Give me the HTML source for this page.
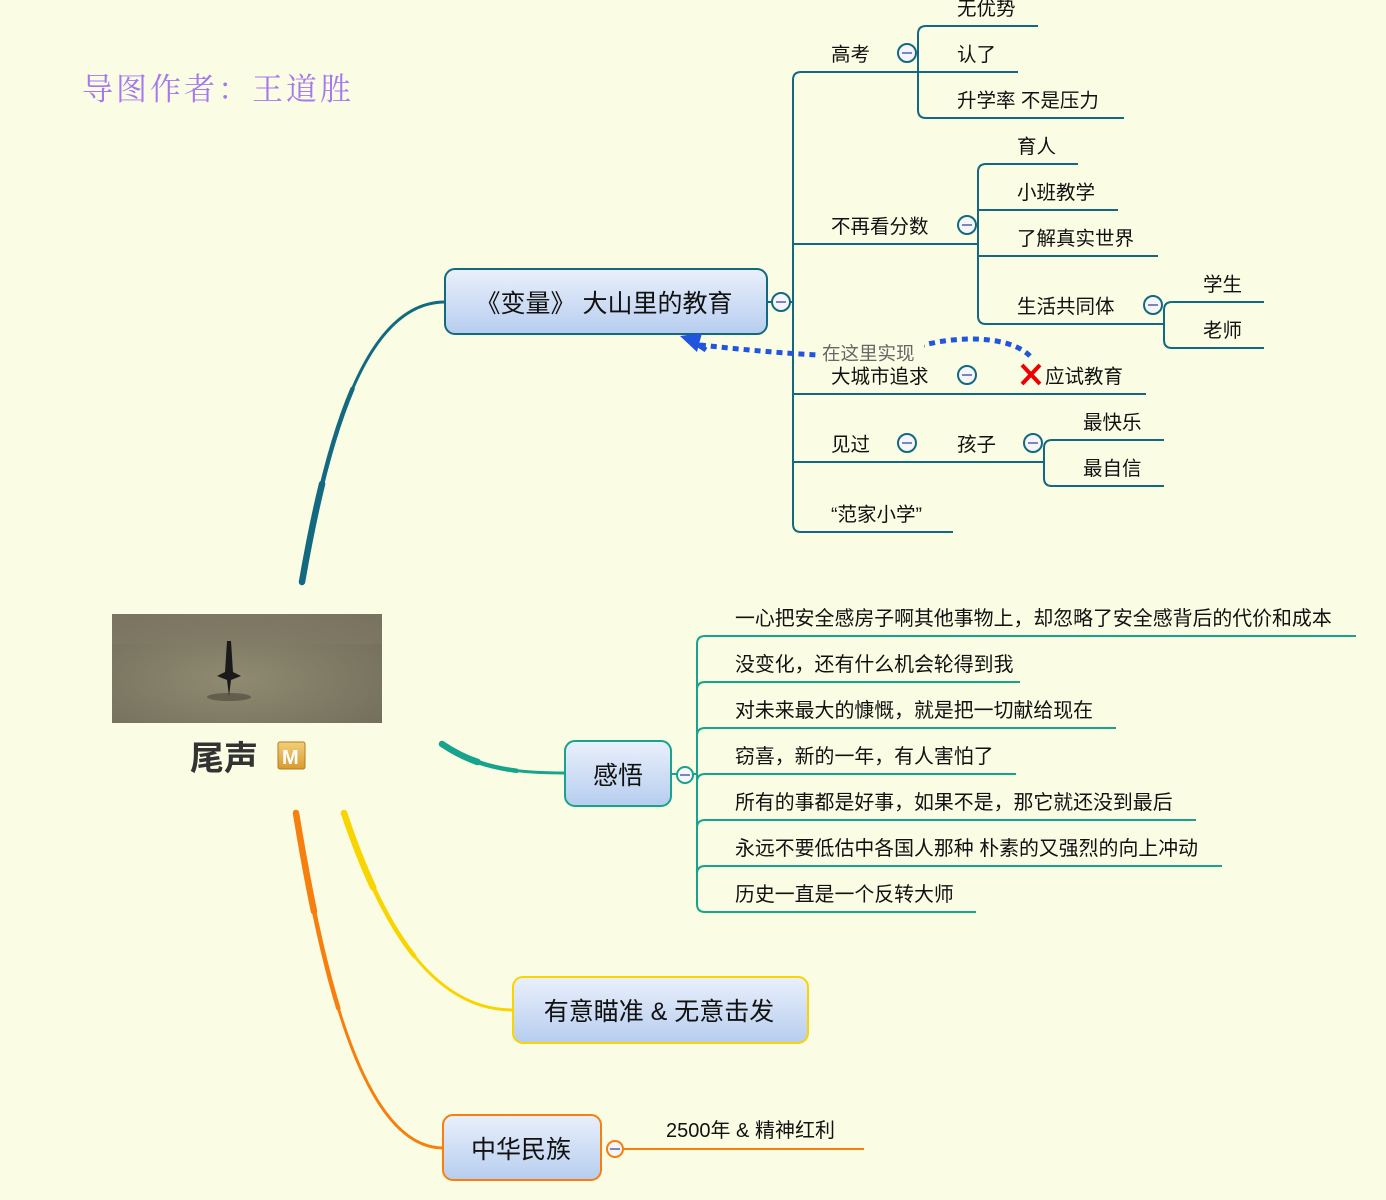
<!DOCTYPE html>
<html><head><meta charset="utf-8"><style>
html,body{margin:0;padding:0;background:#fafde4;}
svg{display:block}
text{font-family:"Liberation Sans","Noto Sans CJK SC",sans-serif;fill:#111;}
</style></head><body>
<svg width="1386" height="1200" viewBox="0 0 1386 1200" xmlns="http://www.w3.org/2000/svg">
<defs>
<linearGradient id="bg" x1="0" y1="0" x2="0" y2="1"><stop offset="0" stop-color="#eaf0fb"/><stop offset="1" stop-color="#b6cdef"/></linearGradient>
<linearGradient id="mg" x1="0" y1="0" x2="0" y2="1"><stop offset="0" stop-color="#f3cf7a"/><stop offset="1" stop-color="#d99a30"/></linearGradient>
<radialGradient id="img" cx="0.45" cy="0.6" r="0.8"><stop offset="0" stop-color="#8f8a70"/><stop offset="1" stop-color="#6f6a58"/></radialGradient>
</defs>
<rect width="1386" height="1200" fill="#fafde4"/>
<text x="82" y="100" style="font-family:'Noto Serif CJK SC','Liberation Serif',serif;font-size:31px;fill:#a578ee;letter-spacing:3px">导图作者：王道胜</text>

<!-- main branch curves -->
<g fill="none" stroke-linecap="round">
<path d="M302,582 C330,420 370,302 445,302" stroke="#136a80" stroke-width="3"/>
<path d="M302,582 C330,420 370,302 445,302" stroke="#136a80" stroke-width="4.5" stroke-dasharray="200 2000"/>
<path d="M302,582 C330,420 370,302 445,302" stroke="#136a80" stroke-width="6.5" stroke-dasharray="100 2000"/>
<path d="M442,744 C480,770 520,773 565,773" stroke="#17a38c" stroke-width="3"/>
<path d="M442,744 C480,770 520,773 565,773" stroke="#17a38c" stroke-width="4.5" stroke-dasharray="80 2000"/>
<path d="M442,744 C480,770 520,773 565,773" stroke="#17a38c" stroke-width="6.5" stroke-dasharray="40 2000"/>
<path d="M344,813 C380,920 430,1010 513,1010" stroke="#f8d400" stroke-width="3"/>
<path d="M344,813 C380,920 430,1010 513,1010" stroke="#f8d400" stroke-width="4.5" stroke-dasharray="160 2000"/>
<path d="M344,813 C380,920 430,1010 513,1010" stroke="#f8d400" stroke-width="6.5" stroke-dasharray="80 2000"/>
<path d="M296,813 C320,960 360,1148 443,1148" stroke="#f77f0e" stroke-width="3"/>
<path d="M296,813 C320,960 360,1148 443,1148" stroke="#f77f0e" stroke-width="4.5" stroke-dasharray="200 2000"/>
<path d="M296,813 C320,960 360,1148 443,1148" stroke="#f77f0e" stroke-width="6.5" stroke-dasharray="100 2000"/>
</g>

<!-- image -->
<rect x="112" y="614" width="270" height="109" fill="url(#img)"/>
<rect x="112" y="614" width="270" height="30" fill="#857d68" opacity="0.4"/>
<ellipse cx="229" cy="697" rx="22" ry="4" fill="#3a3a30" opacity="0.5"/>
<path d="M227,641 L231,641 L233,672 L241,676 L231,680 L229,696 L227,680 L217,676 L225,672 Z" fill="#1a1a1a"/>
<text x="190" y="770" style="font-size:34px;font-weight:bold;fill:#333">尾声</text>
<rect x="278" y="742" width="27" height="27" rx="2" fill="url(#mg)" stroke="#b97a18"/>
<text x="282" y="764" style="font-size:20px;font-weight:bold;fill:#fff">M</text>

<!-- top branch tree -->
<g fill="none" stroke="#136a80" stroke-width="2">
<path d="M767,302 H793"/>
<path d="M953,532 H801 Q793,532 793,524 V80 Q793,72 801,72 H918"/>
<path d="M1038,26 H926 Q918,26 918,34 V110 Q918,118 926,118 H1124"/>
<path d="M918,72 H1018"/>
<path d="M793,244 H978"/>
<path d="M1078,164 H986 Q978,164 978,172 V316 Q978,324 986,324 H1164"/>
<path d="M978,210 H1118"/>
<path d="M978,256 H1158"/>
<path d="M1264,302 H1172 Q1164,302 1164,310 V340 Q1164,348 1172,348 H1264"/>
<path d="M793,394 H1146"/>
<path d="M793,462 H1044"/>
<path d="M1164,440 H1052 Q1044,440 1044,448 V478 Q1044,486 1052,486 H1164"/>
</g>
<g fill="#f5f5fa" stroke="#136a80" stroke-width="2">
<circle cx="781" cy="302" r="9"/><circle cx="907" cy="53" r="9"/><circle cx="967" cy="225" r="9"/>
<circle cx="1153" cy="305" r="9"/><circle cx="967" cy="375" r="9"/><circle cx="907" cy="443" r="9"/><circle cx="1033" cy="443" r="9"/>
</g>
<g stroke="#7a86c0" stroke-width="2">
<path d="M776,302h10M902,53h10M962,225h10M1148,305h10M962,375h10M902,443h10M1028,443h10"/>
</g>
<rect x="445" y="269" width="322" height="65" rx="10" fill="url(#bg)" stroke="#136a80" stroke-width="2"/>
<text x="604" y="312" text-anchor="middle" style="font-size:25px">《变量》 大山里的教育</text>

<g style="font-size:19.5px">
<text x="831" y="61">高考</text>
<text x="957" y="15">无优势</text>
<text x="957" y="61">认了</text>
<text x="957" y="107">升学率 不是压力</text>
<text x="831" y="233">不再看分数</text>
<text x="1017" y="153">育人</text>
<text x="1017" y="199">小班教学</text>
<text x="1017" y="245">了解真实世界</text>
<text x="1017" y="313">生活共同体</text>
<text x="1203" y="291">学生</text>
<text x="1203" y="337">老师</text>
<text x="831" y="383">大城市追求</text>
<text x="1045" y="383">应试教育</text>
<text x="831" y="451">见过</text>
<text x="957" y="451">孩子</text>
<text x="1083" y="429">最快乐</text>
<text x="1083" y="475">最自信</text>
<text x="831" y="521">“范家小学”</text>
</g>
<path d="M1022,365 L1040,384 M1040,365 L1022,384" stroke="#e00" stroke-width="4"/>

<!-- dotted relationship -->
<path d="M1030,356 C1010,336 960,335 920,346 C880,358 840,360 700,345" fill="none" stroke="#2255dd" stroke-width="5" stroke-dasharray="6,5"/>
<path d="M680,336 L702,333 L697,352 Z" fill="#2255dd"/>
<path d="M688,338 L706,350" stroke="#2255dd" stroke-width="5"/>
<rect x="820" y="342" width="104" height="22" fill="#fafde4"/>
<text x="822" y="360" style="font-size:18.5px;fill:#666">在这里实现</text>

<!-- 感悟 -->
<g fill="none" stroke="#17a38c" stroke-width="2">
<path d="M671,774 H697"/>
<path d="M697,644 Q697,636 705,636 H1356"/>
<path d="M697,644 V904 Q697,912 705,912 H976"/>
<path d="M697,690 Q697,682 705,682 H1020"/>
<path d="M697,736 Q697,728 705,728 H1116"/>
<path d="M697,782 Q697,774 705,774 H1016"/>
<path d="M697,828 Q697,820 705,820 H1196"/>
<path d="M697,874 Q697,866 705,866 H1222"/>
</g>
<circle cx="685" cy="775" r="8" fill="#f5f5fa" stroke="#17a38c" stroke-width="2"/>
<path d="M680,775h10" stroke="#7a86c0" stroke-width="2"/>
<rect x="565" y="741" width="106" height="65" rx="10" fill="url(#bg)" stroke="#17a38c" stroke-width="2"/>
<text x="618" y="784" text-anchor="middle" style="font-size:25px">感悟</text>
<g style="font-size:19.9px">
<text x="735" y="625">一心把安全感房子啊其他事物上，却忽略了安全感背后的代价和成本</text>
<text x="735" y="671">没变化，还有什么机会轮得到我</text>
<text x="735" y="717">对未来最大的慷慨，就是把一切献给现在</text>
<text x="735" y="763">窃喜，新的一年，有人害怕了</text>
<text x="735" y="809">所有的事都是好事，如果不是，那它就还没到最后</text>
<text x="735" y="855">永远不要低估中各国人那种 朴素的又强烈的向上冲动</text>
<text x="735" y="901">历史一直是一个反转大师</text>
</g>

<!-- 有意瞄准 -->
<rect x="513" y="977" width="295" height="66" rx="10" fill="url(#bg)" stroke="#f8d400" stroke-width="2"/>
<text x="659" y="1020" text-anchor="middle" style="font-size:25px">有意瞄准 &amp; 无意击发</text>

<!-- 中华民族 -->
<path d="M624,1149 H864" stroke="#f77f0e" stroke-width="2"/>
<circle cx="615" cy="1149" r="8" fill="#f5f5fa" stroke="#f77f0e" stroke-width="2"/>
<path d="M610,1149h10" stroke="#7a86c0" stroke-width="2"/>
<rect x="443" y="1115" width="158" height="65" rx="10" fill="url(#bg)" stroke="#f77f0e" stroke-width="2"/>
<text x="521" y="1158" text-anchor="middle" style="font-size:25px">中华民族</text>
<text x="666" y="1137" style="font-size:20px">2500年 &amp; 精神红利</text>
</svg>
</body></html>
